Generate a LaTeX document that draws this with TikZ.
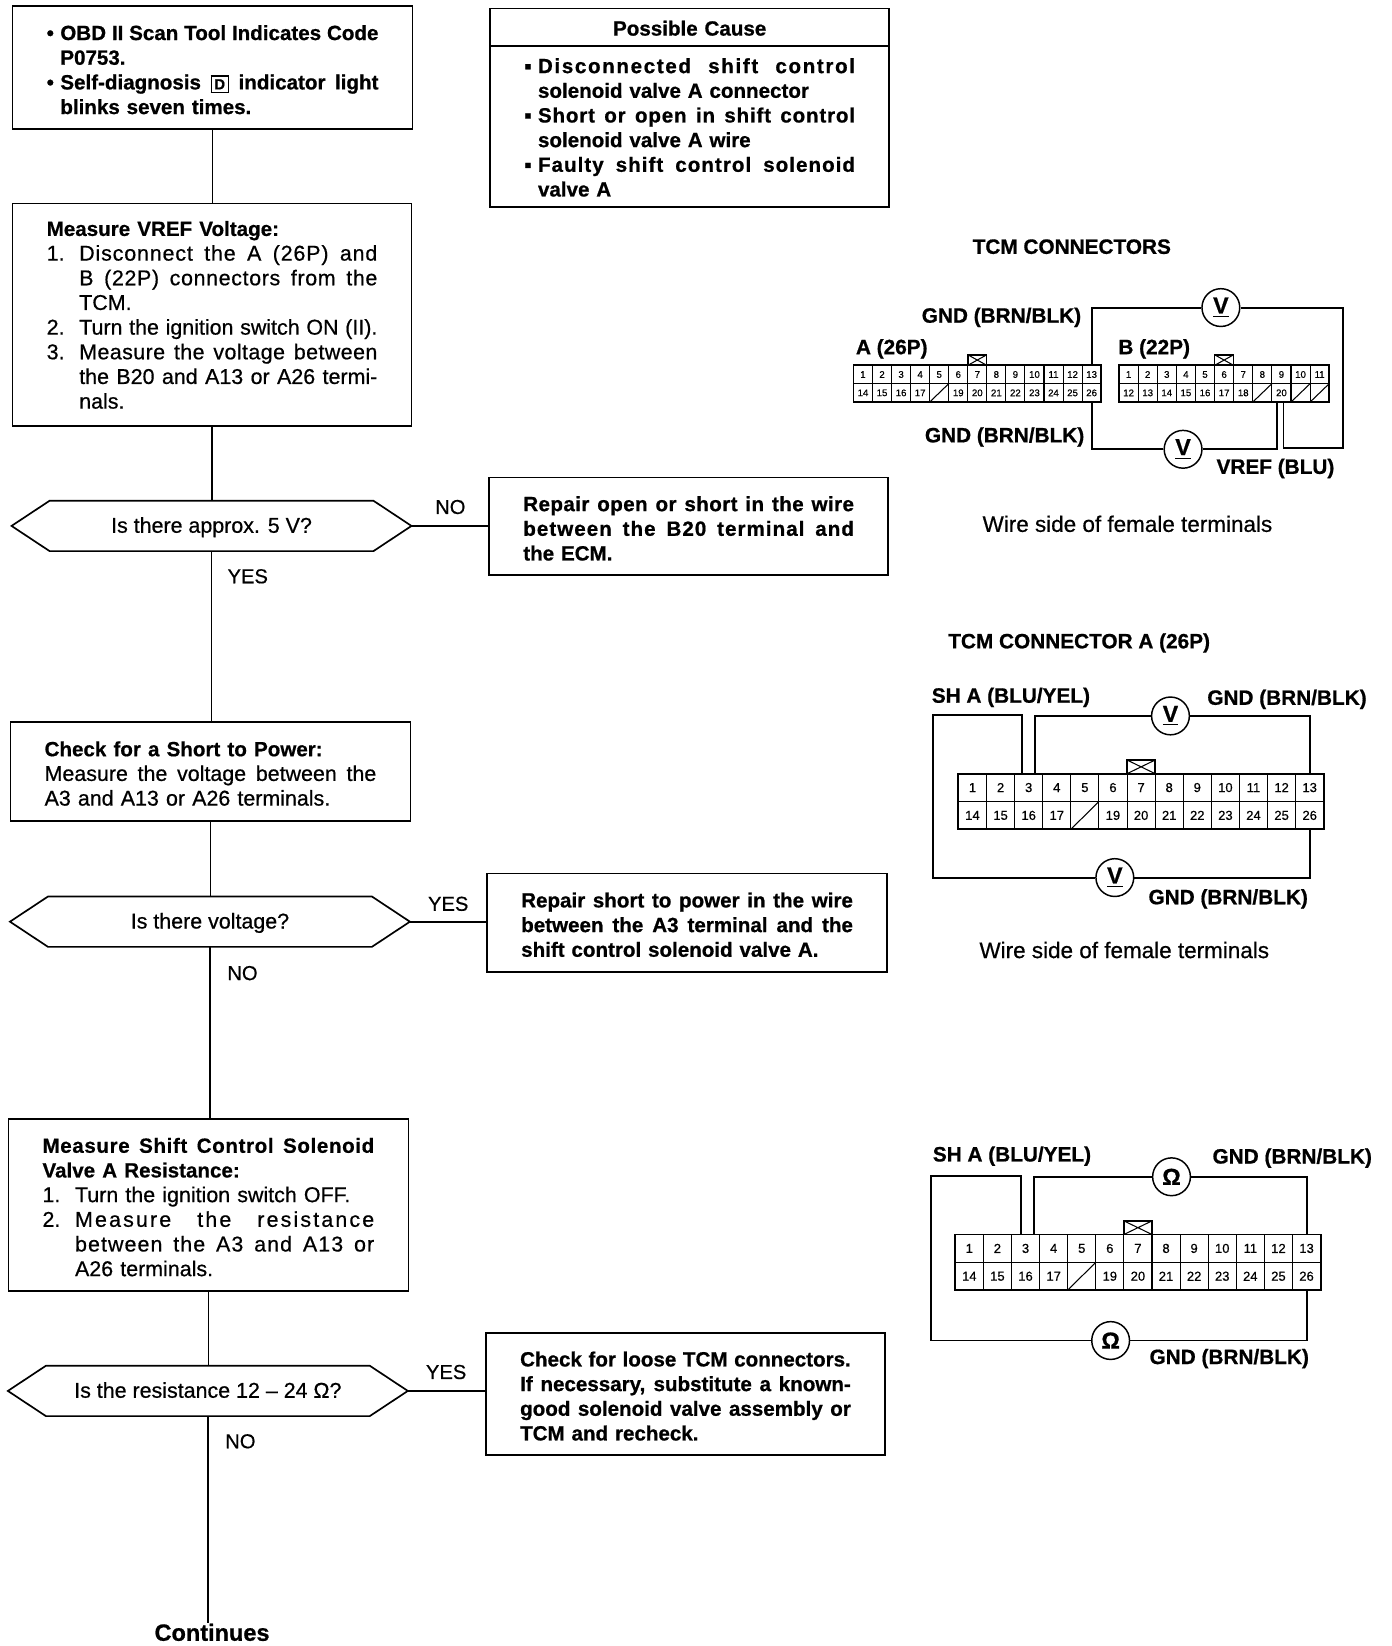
\documentclass[tikz,border=0pt]{standalone}
\usepackage{fontspec}
\setmainfont{Liberation Sans}[BoldFeatures={FakeBold=0.8}]
\newfontfamily\medfont[FakeBold=0.6]{Liberation Sans}
\usetikzlibrary{shapes.symbols}

\newlength\hangw
\newcommand{\txt}{\fontsize{10.2}{11.75}\selectfont}
\newcommand{\txtb}{\fontsize{9.8}{11.75}\selectfont}
\newcommand{\wide}[2]{{\addfontfeature{LetterSpace=#1}#2}}
\newcommand{\fl}[1]{\makebox[\linewidth][s]{\spaceskip=0pt\xspaceskip=0pt #1}}
\newcommand{\hl}[2]{\makebox[\hangw][l]{#1}#2}
\newcommand{\jl}[2]{\makebox[\hangw][l]{#1}\makebox[\dimexpr\linewidth-\hangw\relax][s]{\spaceskip=0pt\xspaceskip=0pt #2}}
\newcommand{\dbox}{{\fboxsep=1.2pt\fboxrule=.7pt\fbox{\fontsize{7}{7}\selectfont D}}}
\newcommand{\hdg}[1]{{\txtb\bfseries #1}}
\newcommand{\gapsize}{9pt}

\tikzset{
	topgap/.code={\renewcommand{\gapsize}{#1}},
	flowbox/.style 2 args={draw,line width=.8pt,rectangle,anchor=north west,outer sep=0pt,inner xsep=16.25pt,inner ysep=0pt,
		text width={(#1-65)*.5pt},minimum height={#2*.5pt},align=left,font=\txt\medfont,execute at begin node={\rule{0pt}{\gapsize}}},
	boldbox/.style={font=\txtb\bfseries},
	hexbox/.style={draw,line width=.8pt,signal,signal to=west and east,signal pointer angle=67,outer sep=0pt,inner sep=0pt,
		minimum width=190.5pt,minimum height=24pt,font=\txt\medfont,text height=7.5pt,text depth=1pt},
	answer/.style={font=\fontsize{9.6}{11}\selectfont\medfont,inner sep=0pt},
	flow/.style={line width=.8pt},
	title/.style={font=\fontsize{9.9}{11}\selectfont\bfseries,inner sep=0pt},
	wirelabel/.style={font=\fontsize{9.9}{11}\selectfont\bfseries,inner sep=0pt,text height=7.4pt,text depth=1pt},
	caption/.style={font=\fontsize{10.7}{12}\selectfont\medfont,inner sep=0pt},
	pin/.style={draw,line width=.5pt,rectangle,inner sep=0pt,outer sep=0pt},
	wire/.style={line width=.9pt},
	meter/.style={draw,line width=.7pt,circle,fill=white,inner sep=0pt,minimum size=18pt,font=\fontsize{11}{12}\selectfont\bfseries},
	keytab/.style={draw,line width=.7pt,rectangle,inner sep=0pt,outer sep=0pt,anchor=south}
}

% name, left, top, cell width, cell height, last of row one, labels one, labels two
\newcommand{\pinrows}[8]{
	\foreach \lab [count=\i] in {#7}
		\node[pin,minimum width=#4*.5pt,minimum height=#5*.5pt] (#1\i) at ({#2+(\i-.5)*#4},{#3+.5*#5}) {\lab};
	\pgfmathtruncatemacro{\first}{#6+1}
	\foreach \lab [count=\i from \first,evaluate=\i as \k using {int(\i-#6)}] in {#8}
		\node[pin,minimum width=#4*.5pt,minimum height=#5*.5pt] (#1\i) at ({#2+(\k-.5)*#4},{#3+1.5*#5}) {\lab};
	\draw[wire] (#11.north west) rectangle (#1#6.south east |- #1\first.south);
}

\begin{document}
\begin{tikzpicture}[x=.5pt,y=-.5pt]
	\useasboundingbox (0,0) rectangle (1326,1568);

	% flow chart, left column
	\setlength\hangw{6.5pt}
	\node[flowbox={381}{117},boldbox] (start) at (12,6) {%
		\jl{•}{OBD II Scan Tool Indicates Code}\\
		\hl{}{P0753.}\\
		\jl{•}{Self-diagnosis \dbox{} indicator light}\\
		\hl{}{blinks seven times.}};
	\setlength\hangw{15.5pt}
	\node[flowbox={380}{212},topgap=5pt] (vref) at (12,194) {%
		\hdg{Measure VREF Voltage:}\\
		\jl{1.}{\wide{4}{Disconnect the A (26P) and}}\\
		\jl{}{\wide{3}{B (22P) connectors from the}}\\
		\hl{}{TCM.}\\
		\jl{2.}{Turn the ignition switch ON (II).}\\
		\jl{3.}{\wide{2}{Measure the voltage between}}\\
		\jl{}{the B20 and A13 or A26 termi-}\\
		\hl{}{nals.}};
	\node[hexbox] (hexvolt) at (201.5,501) {Is there approx. 5 V?};
	\node[flowbox={381}{94}] (power) at (10,688) {%
		\hdg{Check for a Short to Power:}\\
		\fl{Measure the voltage between the}\\
		A3 and A13 or A26 terminals.};
	\node[hexbox] (hexpower) at (200,878) {Is there voltage?};
	\node[flowbox={381}{164}] (shift) at (8,1066) {%
		\hdg{\fl{\wide{3}{Measure Shift Control Solenoid}}}\\
		\hdg{Valve A Resistance:}\\
		\hl{1.}{Turn the ignition switch OFF.}\\
		\jl{2.}{\wide{10}{Measure the resistance}}\\
		\jl{}{\wide{5}{between the A3 and A13 or}}\\
		\hl{}{A26 terminals.}};
	\node[hexbox] (hexohm) at (198,1325) {Is the resistance 12 – 24 Ω?};
	\node[font=\fontsize{11.2}{12}\selectfont\bfseries,inner sep=0pt] (more) at (202,1555) {Continues};

	% flow chart, right column
	\setlength\hangw{6.5pt}
	\node[flowbox={380}{36},boldbox,align=center,topgap=8pt] (causehead) at (467,8) {Possible Cause};
	\node[flowbox={380}{153},boldbox,topgap=8pt] (cause) at (467,44) {%
		\jl{▪}{\wide{8}{Disconnected shift control}}\\
		\hl{}{solenoid valve A connector}\\
		\jl{▪}{\wide{4}{Short or open in shift control}}\\
		\hl{}{solenoid valve A wire}\\
		\jl{▪}{\wide{5}{Faulty shift control solenoid}}\\
		\hl{}{valve A}};
	\node[flowbox={380}{93},boldbox] (repwire) at (466,455) {%
		\fl{\wide{2}{Repair open or short in the wire}}\\
		\fl{\wide{5}{between the B20 terminal and}}\\
		the ECM.};
	\node[flowbox={381}{94},boldbox] (reppower) at (464,832) {%
		\fl{Repair short to power in the wire}\\
		\fl{between the A3 terminal and the}\\
		shift control solenoid valve A.};
	\node[flowbox={380}{116},boldbox] (recheck) at (463,1270) {%
		\fl{Check for loose TCM connectors.}\\
		\fl{If necessary, substitute a known-}\\
		\fl{good solenoid valve assembly or}\\
		TCM and recheck.};

	\node[answer] (novolt) at (429,483) {NO};
	\node[answer] (yesvolt) at (236,549) {YES};
	\node[answer] (yespower) at (427,861) {YES};
	\node[answer] (nopower) at (231,927) {NO};
	\node[answer] (yesohm) at (425,1307) {YES};
	\node[answer] (noohm) at (229,1373) {NO};

	\draw[flow] (start.south) -- (start.south |- vref.north);
	\draw[line width=1.1pt] (vref.south) -- (vref.south |- hexvolt.north);
	\draw[flow] (hexvolt.south) -- (hexvolt.south |- power.north);
	\draw[flow] (hexvolt.east) -- (hexvolt.east -| repwire.west);
	\draw[flow] (power.south) -- (power.south |- hexpower.north);
	\draw[flow] (hexpower.east) -- (hexpower.east -| reppower.west);
	\draw[line width=1.1pt] (hexpower.south) -- (hexpower.south |- shift.north);
	\draw[flow] (shift.south) -- (shift.south |- hexohm.north);
	\draw[flow] (hexohm.east) -- (hexohm.east -| recheck.west);
	\draw[line width=1.1pt] (hexohm.south) -- (hexohm.south |- more.north);

	% TCM connectors A and B
	\node[title] (tcmboth) at (1021,235) {TCM CONNECTORS};
	\node[wirelabel,anchor=west] (alabel) at (815,331) {A (26P)};
	\node[wirelabel,anchor=west] (blabel) at (1065,331) {B (22P)};
	\begin{scope}[font=\fontsize{4.6}{5}\selectfont\medfont]
		\pinrows{a}{813}{348}{18.15}{17.5}{13}{1,2,3,4,5,6,7,8,9,10,11,12,13}{14,15,16,17,{},19,20,21,22,23,24,25,26}
		\pinrows{b}{1066}{348}{18.2}{17.5}{11}{1,2,3,4,5,6,7,8,9,10,11}{12,13,14,15,16,17,18,{},20,{},{}}
	\end{scope}
	\foreach \cell in {a18,b19,b21,b22}
		\draw[pin] (\cell.south west) -- (\cell.north east);
	\foreach \cell/\tab in {a7/atab,b6/btab}{
		\node[keytab,minimum width=9pt,minimum height=5pt] (\tab) at (\cell.north) {};
		\draw[pin] (\tab.north west) -- (\tab.south east) (\tab.south west) -- (\tab.north east);
	}
	\node[meter] (vtop) at (1163,293) {\underline{V}};
	\node[meter] (vbot) at (1127,428) {\underline{V}};
	\coordinate (bendtop) at (1279,293);
	\coordinate (bendbot) at (1279,427);
	\draw[wire] (a13.north) |- (vtop.west);
	\draw[wire] (vtop.east) -- (bendtop) -- (bendbot) -| ([xshift=1pt]b20.south);
	\draw[wire] (a26.south) |- (vbot.west);
	\draw[wire] (vbot.east) -| ([xshift=-2pt]b20.south);
	\node[wirelabel] (gndtop) at (954,301) {GND (BRN/BLK)};
	\node[wirelabel] (gndbot) at (957,415) {GND (BRN/BLK)};
	\node[wirelabel] (vreflabel) at (1215,445) {VREF (BLU)};
	\node[caption] (sideone) at (1074,499) {Wire side of female terminals};

	% TCM connector A, voltage check
	\node[title] (tcma) at (1028,612.5) {TCM CONNECTOR A (26P)};
	\begin{scope}[font=\fontsize{6.2}{7}\selectfont\medfont]
		\pinrows{c}{913}{737}{26.77}{26.5}{13}{1,2,3,4,5,6,7,8,9,10,11,12,13}{14,15,16,17,{},19,20,21,22,23,24,25,26}
	\end{scope}
	\draw[pin] (c18.south west) -- (c18.north east);
	\node[keytab,minimum width=13.4pt,minimum height=6.5pt] (ctab) at (c7.north) {};
	\draw[pin] (ctab.north west) -- (ctab.south east) (ctab.south west) -- (ctab.north east);
	\node[meter] (vctop) at (1115,682) {\underline{V}};
	\node[meter] (vcbot) at (1062,836) {\underline{V}};
	\coordinate (cornertop) at (889,681);
	\coordinate (cornerbot) at (889,836);
	\draw[wire] ([xshift=-3pt]c3.north) |- (cornertop) -- (cornerbot) -- (vcbot.west);
	\draw[wire] ([xshift=3pt]c3.north) |- (vctop.west);
	\draw[wire] (vctop.east) -| (c13.north);
	\draw[wire] (vcbot.east) -| (c26.south);
	\node[wirelabel] (shlabel) at (963,663) {SH A (BLU/YEL)};
	\node[wirelabel] (gndctop) at (1226,665) {GND (BRN/BLK)};
	\node[wirelabel] (gndcbot) at (1170,855) {GND (BRN/BLK)};
	\node[caption] (sidetwo) at (1071,905) {Wire side of female terminals};

	% TCM connector A, resistance check
	\begin{scope}[font=\fontsize{6.2}{7}\selectfont\medfont]
		\pinrows{d}{910}{1176}{26.77}{26.5}{13}{1,2,3,4,5,6,7,8,9,10,11,12,13}{14,15,16,17,{},19,20,21,22,23,24,25,26}
	\end{scope}
	\draw[pin] (d18.south west) -- (d18.north east);
	\node[keytab,minimum width=13.4pt,minimum height=6.5pt] (dtab) at (d7.north) {};
	\draw[pin] (dtab.north west) -- (dtab.south east) (dtab.south west) -- (dtab.north east);
	\node[meter] (ohmtop) at (1116,1121) {Ω};
	\node[meter] (ohmbot) at (1058,1277) {Ω};
	\coordinate (rimtop) at (887,1120);
	\coordinate (rimbot) at (887,1277);
	\draw[wire] ([xshift=-2pt]d3.north) |- (rimtop) -- (rimbot) -- (ohmbot.west);
	\draw[wire] ([xshift=4pt]d3.north) |- (ohmtop.west);
	\draw[wire] (ohmtop.east) -| (d13.north);
	\draw[wire] (ohmbot.east) -| (d26.south);
	\node[wirelabel] (shohm) at (964,1100) {SH A (BLU/YEL)};
	\node[wirelabel] (gndohmtop) at (1231,1102) {GND (BRN/BLK)};
	\node[wirelabel] (gndohmbot) at (1171,1293) {GND (BRN/BLK)};
\end{tikzpicture}
\end{document}
